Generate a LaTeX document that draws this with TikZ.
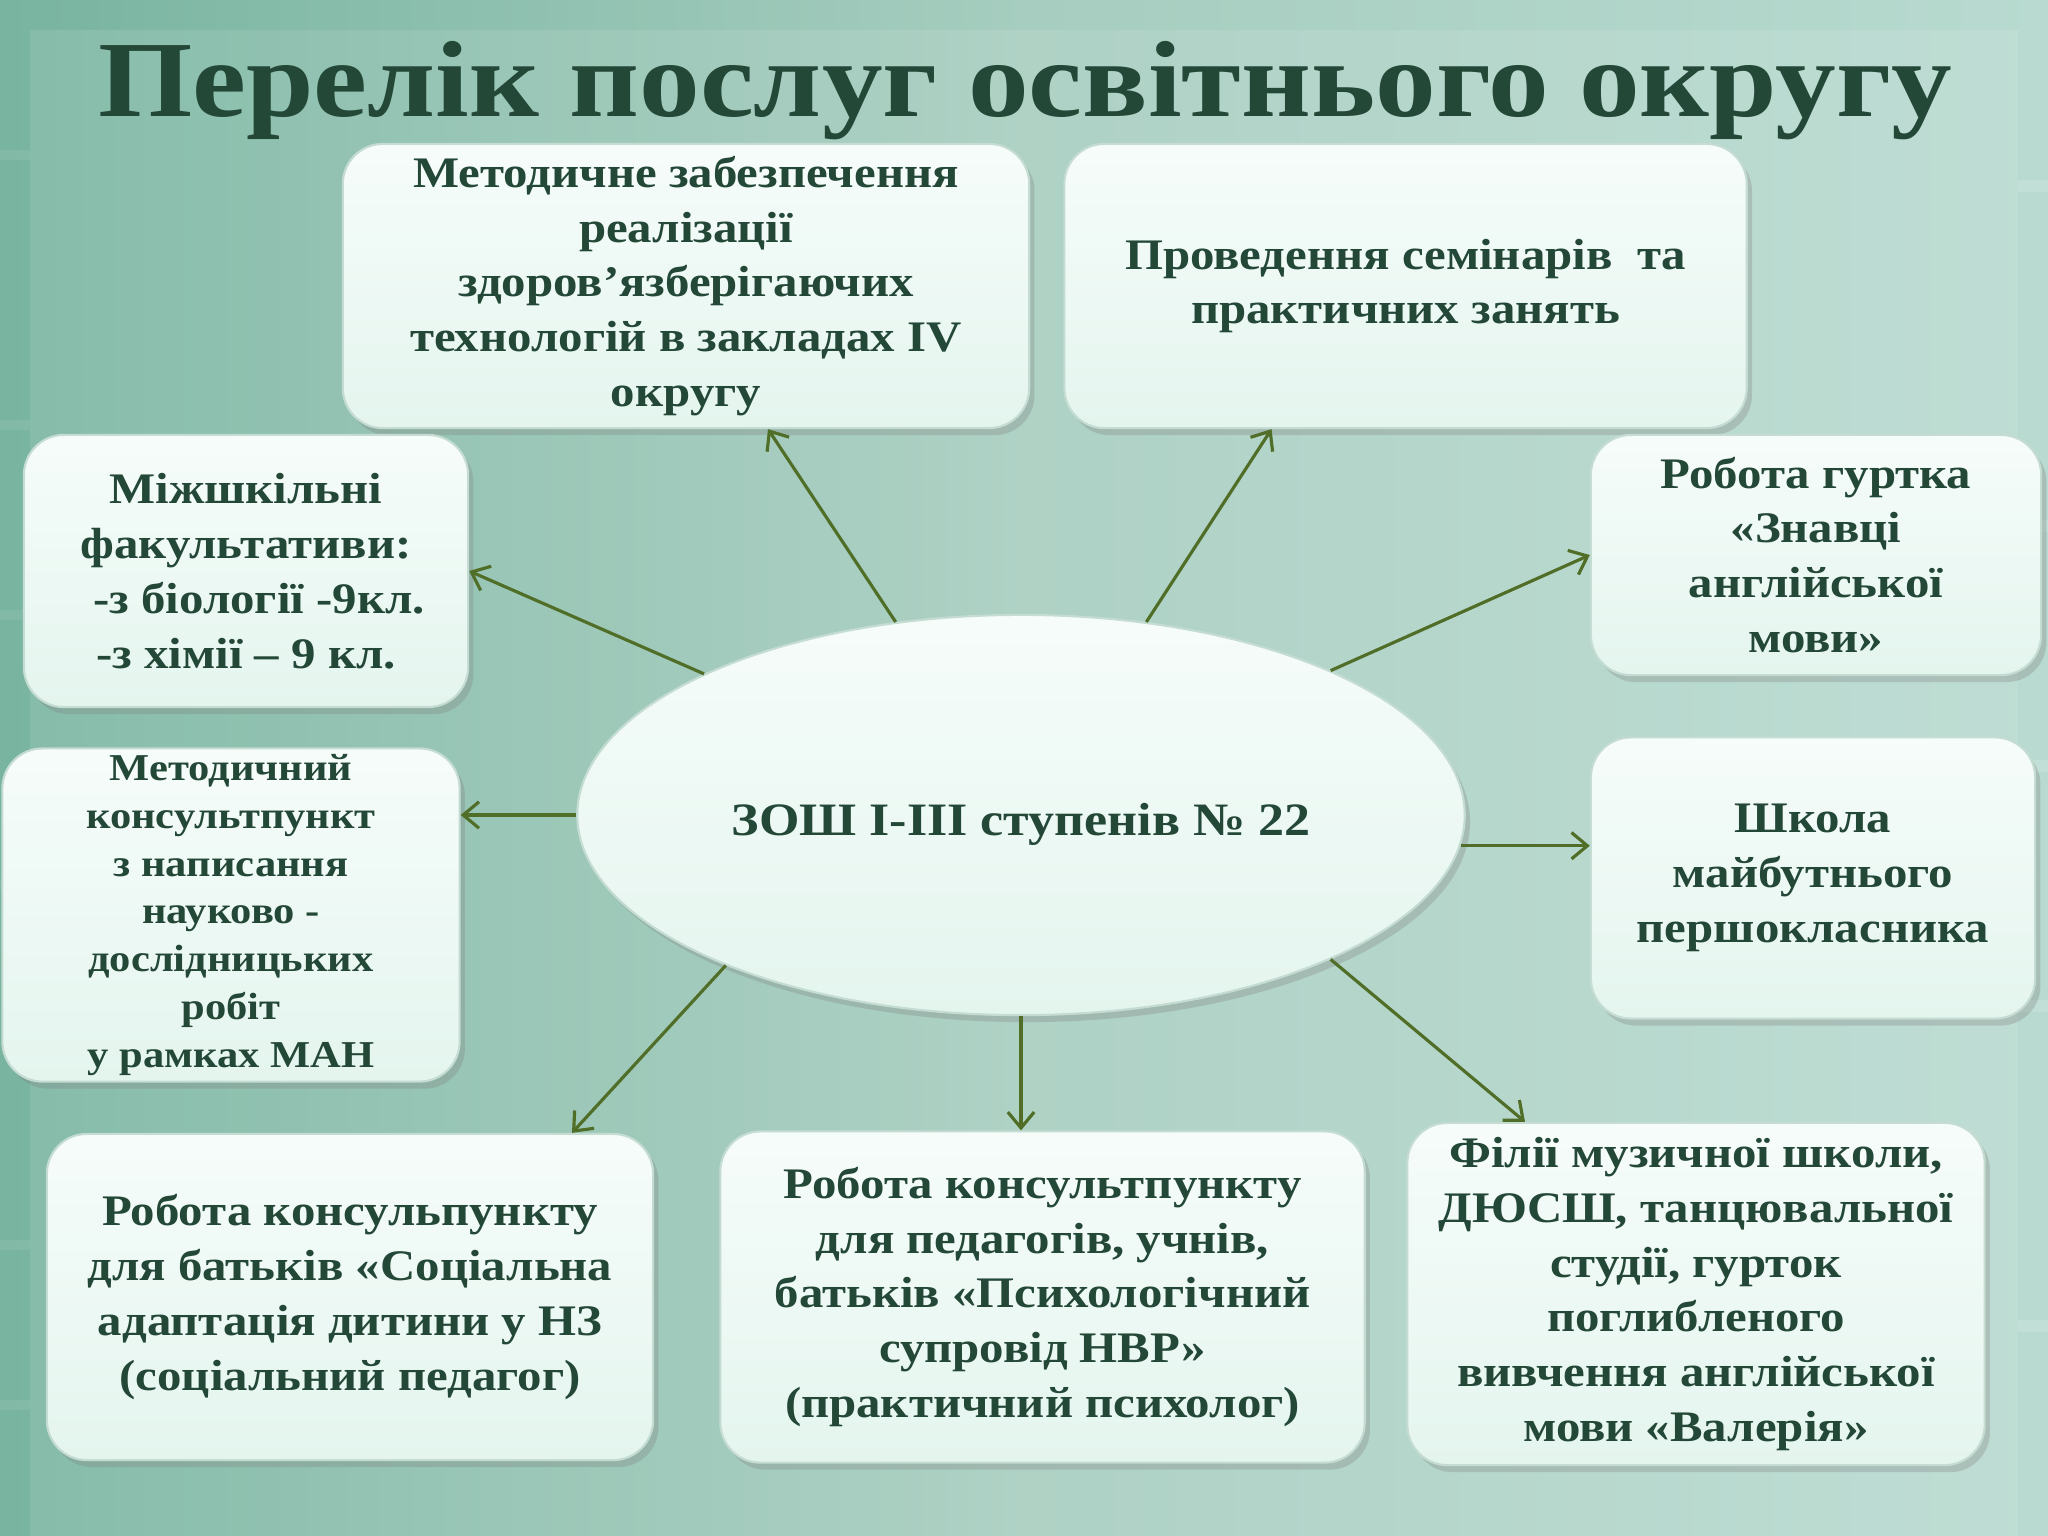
\documentclass[tikz,border=0pt]{standalone}
\usepackage{fontspec}
\setmainfont{Liberation Serif}[FakeStretch=1.12]
\usetikzlibrary{arrows.meta,shapes.geometric,shadows,positioning,calc}

\definecolor{txtgreen}{RGB}{36,72,56}
\definecolor{arrgreen}{RGB}{80,110,40}
\definecolor{bgleft}{RGB}{120,180,160}
\definecolor{bgmid}{RGB}{166,205,191}
\definecolor{bgright}{RGB}{184,218,208}
\definecolor{boxtop}{RGB}{246,252,250}
\definecolor{boxbot}{RGB}{228,245,238}
\definecolor{boxline}{RGB}{196,220,210}

\newcommand{\boxfont}{\bfseries\fontsize{12.4}{15.6}\selectfont}
\newcommand{\smallboxfont}{\bfseries\fontsize{10.8}{13.6}\selectfont}
\newcommand{\titlefont}{\bfseries\fontsize{30.8}{34}\selectfont}

\begin{document}
\begin{tikzpicture}[x=0.01cm,y=-0.01cm]
\tikzstyle{roundbox} = [rectangle, rounded corners=0.4cm, inner sep=0pt, align=center, text=txtgreen, font=\boxfont, draw=boxline, line width=0.6pt, top color=boxtop, bottom color=boxbot, drop shadow={opacity=0.3, shadow xshift=1.5pt, shadow yshift=-2pt}]
\tikzstyle{link} = [draw=arrgreen, line width=0.9pt, -{Straight Barb[length=4.5pt,width=7.5pt]}]
\useasboundingbox (0,0) rectangle (2048,1536);
% background
\shade[left color=bgleft, right color=bgright, middle color=bgmid] (0,0) rectangle (2048,1536);
\fill[white, fill opacity=0.1] (30,30) rectangle (2018,1536);
\foreach \y in {150,420,610,880,1240,1400}
  \fill[white, fill opacity=0.07] (0,\y) rectangle (30,\y+10);
\foreach \y in {180,520,760,1000,1320}
  \fill[white, fill opacity=0.15] (2018,\y) rectangle (2048,\y+12);

\node (title)[anchor=base, font=\titlefont, text=txtgreen] at (1025,116) {Перелік послуг освітнього округу};

% centre
\node (ell)[ellipse, inner sep=0pt, minimum width=8.87cm, minimum height=4cm, draw=boxline, line width=0.6pt, top color=boxtop, bottom color=boxbot, drop shadow={opacity=0.3, shadow xshift=1.5pt, shadow yshift=-2pt}] at (1021,815) {};
\node (ztext)[text=txtgreen, font=\bfseries\fontsize{13.2}{16}\selectfont] at (1021,824) {ЗОШ І-ІІІ ступенів № 22};

% services
\node (m1)[roundbox, minimum width=6.86cm, minimum height=2.84cm] at (686,286) {Методичне забезпечення\\ реалізації\\ здоров’язберігаючих\\ технологій в закладах IV\\ округу};
\node (sem)[roundbox, minimum width=6.82cm, minimum height=2.84cm, right=0.33cm of m1] {Проведення семінарів~ та\\ практичних занять};
\node (fak)[roundbox, minimum width=4.44cm, minimum height=2.72cm] at (246,571) {Міжшкільні\\ факультативи:\\ \hspace*{0.6em}-з біології -9кл.\\ -з хімії – 9 кл.};
\node (gurt)[roundbox, minimum width=4.5cm, minimum height=2.4cm] at (1816,555) {Робота гуртка\\ «Знавці\\ англійської\\ мови»};
\node (man)[roundbox, font=\smallboxfont, minimum width=4.57cm, minimum height=3.33cm] at (231,915) {Методичний\\ консультпункт\\ з написання\\ науково -\\ дослідницьких\\ робіт\\ у рамках МАН};
\node (shk)[roundbox, minimum width=4.44cm, minimum height=2.81cm] at (1813,878) {Школа\\ майбутнього\\ першокласника};
\node (soc)[roundbox, minimum width=6.06cm, minimum height=3.26cm] at (350,1297) {Робота консульпункту\\ для батьків «Соціальна\\ адаптація дитини у НЗ\\ (соціальний педагог)};
\node (psy)[roundbox, minimum width=6.44cm, minimum height=3.31cm, right=0.65cm of soc] {Робота консультпункту\\ для педагогів, учнів,\\ батьків «Психологічний\\ супровід НВР»\\ (практичний психолог)};
\node (fil)[roundbox, minimum width=5.77cm, minimum height=3.42cm] at (1696,1294) {Філії музичної школи,\\ ДЮСШ, танцювальної\\ студії, гурток\\ поглибленого\\ вивчення англійської\\ мови «Валерія»};

% arrows
\draw [link] (ell.123) -- ($(m1.south)+(82,0)$);
\draw [link] (ell.57) -- ($(sem.south)+(-134,0)$);
\draw [link] (ell.156) -- (fak.east);
\draw [link] (ell.25) -- (gurt.west);
\draw [link] (ell.west) -- (ell.west -| man.east);
\draw [link] (ell.356) -- (ell.356 -| shk.west);
\draw [link] (ell.207) -- ($(soc.north)+(222,0)$);
\draw [link] (ell.south) -- (ell.south |- psy.north);
\draw [link] (ell.335) -- ($(fil.north)+(-171,0)$);
\end{tikzpicture}
\end{document}
